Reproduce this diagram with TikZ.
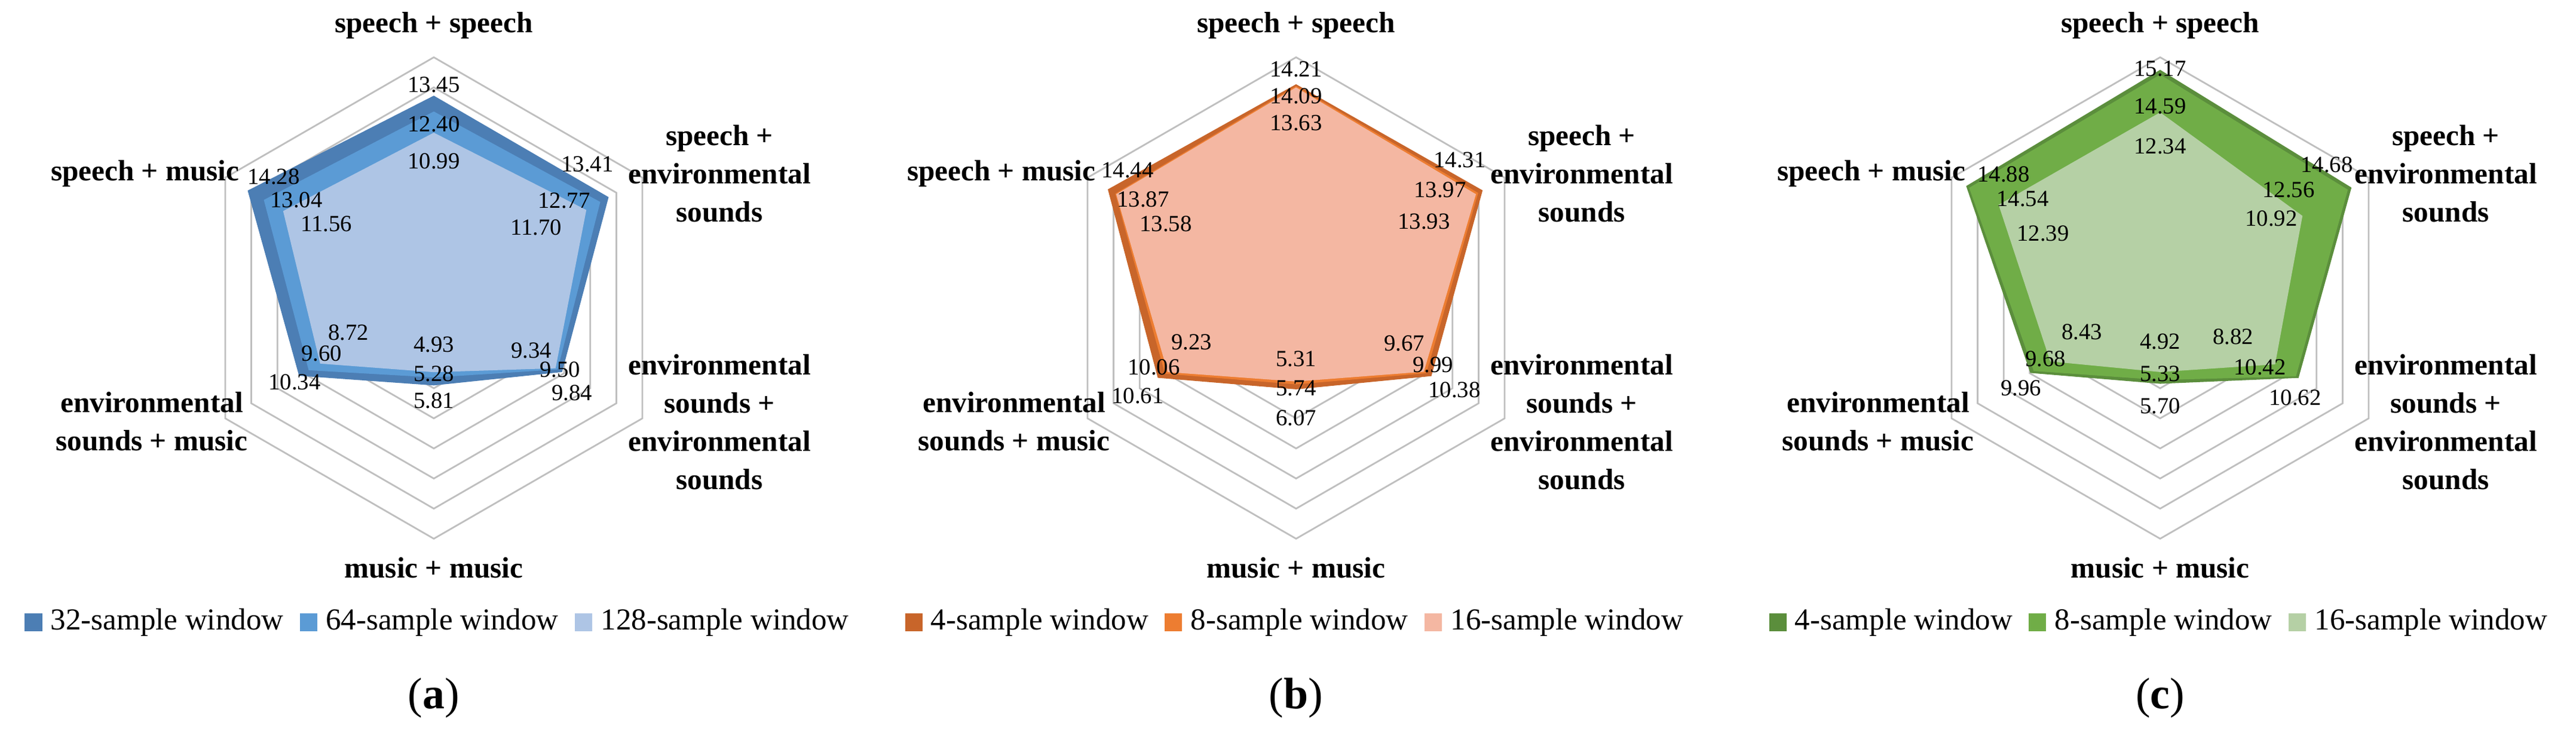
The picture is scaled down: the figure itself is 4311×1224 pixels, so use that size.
\documentclass[tikz,border=0pt]{standalone}
\usepackage{fontspec}
\setmainfont{Liberation Serif}
\usetikzlibrary{positioning}
\definecolor{gridgray}{HTML}{BFBFBF}
\definecolor{aone}{HTML}{4C7EB4}
\definecolor{atwo}{HTML}{5B9BD5}
\definecolor{athree}{HTML}{AEC5E5}
\definecolor{bone}{HTML}{C8652A}
\definecolor{btwo}{HTML}{ED7D31}
\definecolor{bthree}{HTML}{F4B7A2}
\definecolor{cone}{HTML}{5B8E3C}
\definecolor{ctwo}{HTML}{70AD47}
\definecolor{cthree}{HTML}{B5D0A5}
\def\sc{25.19}
\newcommand\rpoly[7]{\fill[#1] (90:{#2*\sc}) -- (30:{#3*\sc}) -- (-30:{#4*\sc}) -- (-90:{#5*\sc}) -- (-150:{#6*\sc}) -- (150:{#7*\sc}) -- cycle;}
\newcommand\rgrid{\foreach \r in {2,4,...,16}{\draw[gridline] (90:{\r*\sc}) -- (30:{\r*\sc}) -- (-30:{\r*\sc}) -- (-90:{\r*\sc}) -- (-150:{\r*\sc}) -- (150:{\r*\sc}) -- cycle;}}
\newcommand\rcats[2]{%
  \node[cat] (#1top) at (0,456) {speech + speech};
  \node[cat] (#1tr) at (478,208) {speech +\\environmental\\sounds};
  \node[cat] (#1br) at (478,-208) {environmental\\sounds +\\environmental\\sounds};
  \node[cat] (#1bot) at (0,-452) {music + music};
  \node[cat] (#1bl) at (-472,-207) {environmental\\sounds + music};
  \node[cat, anchor=east] (#1tl) at (#2,208) {speech + music};}
\newcommand\rlegend[8]{%
  \node[lsq, fill=#2] (#1s1) at (#8,0) {};
  \node[ltxt, right=0.13cm of #1s1] (#1t1) {#5};
  \node[lsq, fill=#3, right=0.26cm of #1t1] (#1s2) {};
  \node[ltxt, right=0.13cm of #1s2] (#1t2) {#6};
  \node[lsq, fill=#4, right=0.26cm of #1t2] (#1s3) {};
  \node[ltxt, right=0.13cm of #1s3] (#1t3) {#7};}
\tikzset{
  gridline/.style={draw=gridgray, line width=0.8pt},
  cat/.style={align=center, inner sep=0pt, font=\bfseries\fontsize{14}{18.2}\selectfont},
  val/.style={inner sep=0pt, font=\fontsize{11}{11}\selectfont},
  lsq/.style={minimum size=0.29cm, inner sep=0pt, draw=none},
  ltxt/.style={inner sep=0pt, anchor=west, font=\fontsize{14.5}{15}\selectfont},
  capt/.style={inner sep=0pt, font=\fontsize{21}{22}\selectfont}
}
\begin{document}
\begin{tikzpicture}[x=0.01cm,y=0.01cm]
\useasboundingbox (0,0) rectangle (4311,1224);
% ---------- (a)
\begin{scope}[shift={(726,725)}]
\rgrid
\rpoly{aone}{13.45}{13.41}{9.84}{5.81}{10.34}{14.28}
\rpoly{atwo}{12.40}{12.77}{9.50}{5.28}{9.60}{13.04}
\rpoly{athree}{10.99}{11.70}{9.34}{4.93}{8.72}{11.56}
\node[val] (a1) at (0,357) {13.45};
\node[val] (a2) at (0,291) {12.40};
\node[val] (a3) at (0,229) {10.99};
\node[val] (a4) at (257,224) {13.41};
\node[val] (a5) at (218,163) {12.77};
\node[val] (a6) at (171,118) {11.70};
\node[val] (a7) at (231,-159) {9.84};
\node[val] (a8) at (211,-120) {9.50};
\node[val] (a9) at (163,-88) {9.34};
\node[val] (a10) at (0,-172) {5.81};
\node[val] (a11) at (0,-127) {5.28};
\node[val] (a12) at (0,-78) {4.93};
\node[val] (a13) at (-233,-141) {10.34};
\node[val] (a14) at (-188,-93) {9.60};
\node[val] (a15) at (-143,-58) {8.72};
\node[val] (a16) at (-268,203) {14.28};
\node[val] (a17) at (-230,164) {13.04};
\node[val] (a18) at (-180,124) {11.56};
\rcats{a}{-325}
\end{scope}
\begin{scope}[shift={(726,182)}]
\rlegend{a}{aone}{atwo}{athree}{32-sample window}{64-sample window}{128-sample window}{-670}
\end{scope}
\node[capt] (capa) at (726,55) {(\textbf{a})};
% ---------- (b)
\begin{scope}[shift={(2169,725)}]
\rgrid
\rpoly{bone}{14.21}{14.31}{10.38}{6.07}{10.61}{14.44}
\rpoly{btwo}{14.09}{13.97}{9.99}{5.74}{10.06}{13.87}
\rpoly{bthree}{14.0}{13.80}{9.80}{5.55}{9.85}{13.80}
\node[val] (b1) at (0,383) {14.21};
\node[val] (b2) at (0,338) {14.09};
\node[val] (b3) at (0,293) {13.63};
\node[val] (b4) at (274,231) {14.31};
\node[val] (b5) at (241,181) {13.97};
\node[val] (b6) at (214,128) {13.93};
\node[val] (b7) at (265,-154) {10.38};
\node[val] (b8) at (229,-112) {9.99};
\node[val] (b9) at (181,-76) {9.67};
\node[val] (b10) at (0,-201) {6.07};
\node[val] (b11) at (0,-151) {5.74};
\node[val] (b12) at (0,-102) {5.31};
\node[val] (b13) at (-265,-164) {10.61};
\node[val] (b14) at (-238,-116) {10.06};
\node[val] (b15) at (-175,-74) {9.23};
\node[val] (b16) at (-282,214) {14.44};
\node[val] (b17) at (-256,165) {13.87};
\node[val] (b18) at (-218,124) {13.58};
\rcats{b}{-335}
\end{scope}
\begin{scope}[shift={(2169,182)}]
\rlegend{b}{bone}{btwo}{bthree}{4-sample window}{8-sample window}{16-sample window}{-640}
\end{scope}
\node[capt] (capb) at (2169,55) {(\textbf{b})};
% ---------- (c)
\begin{scope}[shift={(3615,725)}]
\rgrid
\rpoly{cone}{15.17}{14.68}{10.62}{5.70}{9.96}{14.88}
\rpoly{ctwo}{14.85}{14.40}{10.42}{5.45}{9.70}{14.65}
\rpoly{cthree}{12.34}{10.92}{8.82}{4.92}{8.43}{12.39}
\node[val] (c1) at (0,384) {15.17};
\node[val] (c2) at (0,321) {14.59};
\node[val] (c3) at (0,254) {12.34};
\node[val] (c4) at (279,223) {14.68};
\node[val] (c5) at (215,181) {12.56};
\node[val] (c6) at (186,133) {10.92};
\node[val] (c7) at (226,-167) {10.62};
\node[val] (c8) at (167,-116) {10.42};
\node[val] (c9) at (122,-65) {8.82};
\node[val] (c10) at (0,-181) {5.70};
\node[val] (c11) at (0,-127) {5.33};
\node[val] (c12) at (0,-73) {4.92};
\node[val] (c13) at (-233,-151) {9.96};
\node[val] (c14) at (-192,-102) {9.68};
\node[val] (c15) at (-131,-57) {8.43};
\node[val] (c16) at (-262,207) {14.88};
\node[val] (c17) at (-230,166) {14.54};
\node[val] (c18) at (-196,108) {12.39};
\rcats{c}{-325}
\end{scope}
\begin{scope}[shift={(3615,182)}]
\rlegend{c}{cone}{ctwo}{cthree}{4-sample window}{8-sample window}{16-sample window}{-640}
\end{scope}
\node[capt] (capc) at (3615,55) {(\textbf{c})};
\end{tikzpicture}
\end{document}
